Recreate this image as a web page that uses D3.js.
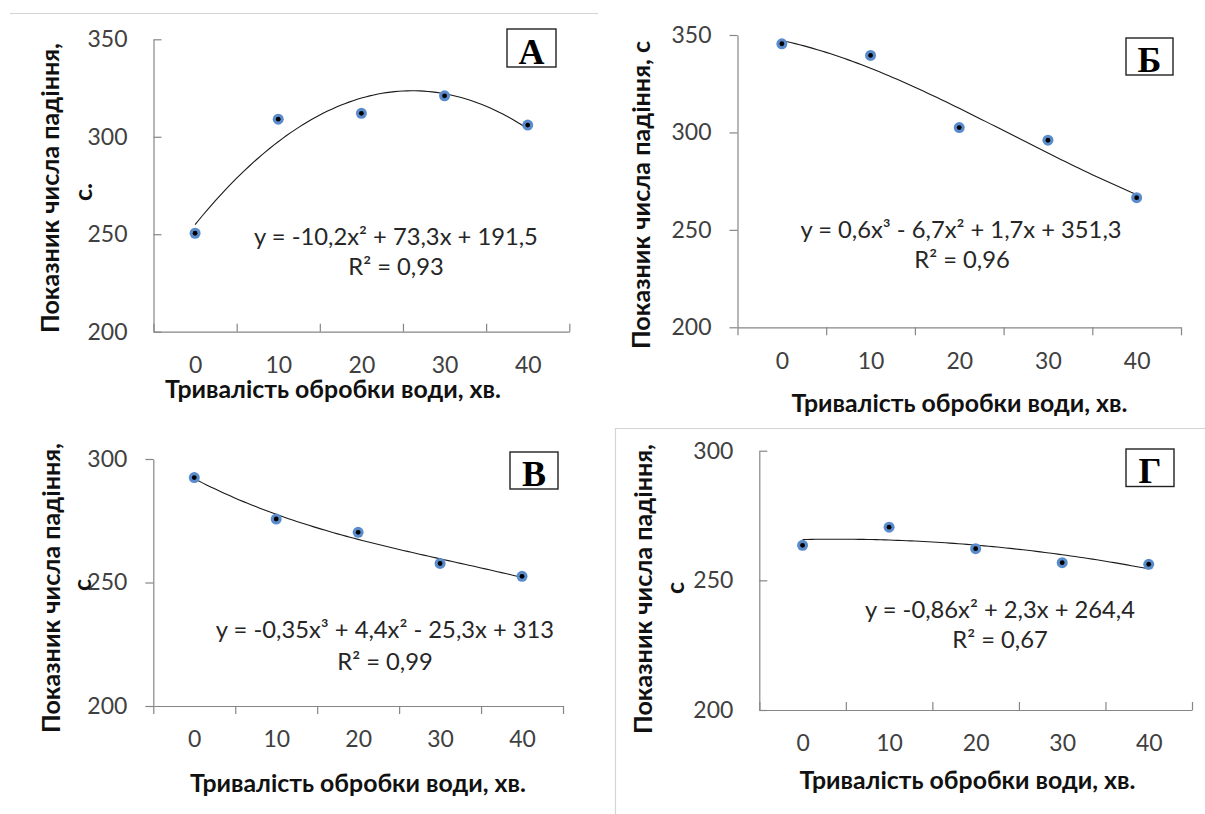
<!DOCTYPE html>
<html>
<head>
<meta charset="utf-8">
<script src="https://cdn.jsdelivr.net/npm/d3@7"></script>
<style>
  html, body { margin: 0; padding: 0; background: #fff; }
  svg { display: block; }
</style>
</head>
<body>
<svg id="chart" width="1205" height="814"></svg>
<script>
// ---- data ----
const categories = [0, 10, 20, 30, 40];

const valuesA = [250.5, 309, 312, 321, 306];
const valuesB = [345.5, 339.5, 302.5, 296, 266.5];
const valuesC = [292.5, 275.7, 270.3, 257.7, 252.5];
const valuesD = [263.5, 270.5, 262.2, 256.8, 256.2];

const yTicksA = [200, 250, 300, 350];
const yTicksB = [200, 250, 300, 350];
const yTicksC = [200, 250, 300];
const yTicksD = [200, 250, 300];

const trendOrder = [2, 3, 3, 2];

const equationText = [
  "y = -10,2x² + 73,3x + 191,5",
  "y = 0,6x³ - 6,7x² + 1,7x + 351,3",
  "y = -0,35x³ + 4,4x² - 25,3x + 313",
  "y = -0,86x² + 2,3x + 264,4"
];
const r2Text = ["R² = 0,93", "R² = 0,96", "R² = 0,99", "R² = 0,67"];
const panelLetters = ["А", "Б", "В", "Г"];
const xTitle = "Тривалість обробки води, хв.";
const yTitleLines = [
  ["Показник числа падіння,", "с."],
  ["Показник числа падіння, с"],
  ["Показник числа падіння,", "с"],
  ["Показник числа падіння,", "с"]
];

// ---- layout (positions/sizes only) ----
const layout = [
  { x0: 153.5, x1: 569.3, yTop: 39.3, yBot: 331.7, dir: "in",
    eq: [396, 237], r2: [396, 267], box: [507, 29, 49, 38],
    xt: [333, 389], yt: [[50, 188], [83, 192]] },
  { x0: 737.5, x1: 1181, yTop: 35, yBot: 327.3, dir: "out",
    eq: [961, 230], r2: [962, 260], box: [1126, 38, 47, 37],
    xt: [959.5, 403], yt: [[641, 195]] },
  { x0: 153.3, x1: 563, yTop: 459, yBot: 706, dir: "out",
    eq: [385, 630], r2: [385, 662], box: [510, 452, 48, 37],
    xt: [358, 783], yt: [[51, 588], [82, 585]] },
  { x0: 759.3, x1: 1192, yTop: 450.7, yBot: 710, dir: "in",
    eq: [1000, 610], r2: [1000, 640], box: [1126, 449, 48, 37.5],
    xt: [967.5, 780], yt: [[643, 589], [675, 588]] }
];

const allValues = [valuesA, valuesB, valuesC, valuesD];
const allTicks = [yTicksA, yTicksB, yTicksC, yTicksD];

// least-squares polynomial fit (like a spreadsheet trendline)
function polyfit(xs, ys, order) {
  const n = order + 1;
  const A = [];
  for (let r = 0; r < n; r++) {
    const row = [];
    for (let c = 0; c < n; c++) row.push(d3.sum(xs, x => Math.pow(x, r + c)));
    row.push(d3.sum(xs, (x, i) => ys[i] * Math.pow(x, r)));
    A.push(row);
  }
  for (let i = 0; i < n; i++) {
    let p = i;
    for (let k = i + 1; k < n; k++) if (Math.abs(A[k][i]) > Math.abs(A[p][i])) p = k;
    [A[i], A[p]] = [A[p], A[i]];
    for (let k = i + 1; k < n; k++) {
      const f = A[k][i] / A[i][i];
      for (let j = i; j <= n; j++) A[k][j] -= f * A[i][j];
    }
  }
  const coef = new Array(n).fill(0);
  for (let i = n - 1; i >= 0; i--) {
    let s = A[i][n];
    for (let j = i + 1; j < n; j++) s -= A[i][j] * coef[j];
    coef[i] = s / A[i][i];
  }
  return x => coef.reduce((acc, c, k) => acc + c * Math.pow(x, k), 0);
}

const svg = d3.select("#chart");
const font = 'Lato, "Noto Sans", sans-serif';

// size fonts so that text widths match the reference widths
function measure(txt, weight) {
  const t = svg.append("text").attr("font-family", font).attr("font-weight", weight)
    .attr("font-size", 100).text(txt);
  const w = t.node().getComputedTextLength();
  t.remove();
  return w;
}
const tickSize = 100 * 40 / measure("350", "normal");
const eqSize = 100 * 284 / measure(equationText[0], "normal");
const xTitleSize = 100 * 336 / measure(xTitle, "bold");
const yTitleSize = 100 * 290 / measure(yTitleLines[0][0], "bold");

svg.append("rect").attr("width", 1205).attr("height", 814).attr("fill", "#fff");

// decorative frame lines
svg.append("line").attr("x1", 10).attr("x2", 598).attr("y1", 13.5).attr("y2", 13.5)
  .attr("stroke", "#d4d4d4").attr("stroke-width", 1.2);
svg.append("path").attr("d", "M615.5,814 V428.5 H1205")
  .attr("fill", "none").attr("stroke", "#d4d4d4").attr("stroke-width", 1.2);

const axisColor = "#868686";

layout.forEach((L, p) => {
  const vals = allValues[p];
  const ticks = allTicks[p];
  const g = svg.append("g");
  const y = d3.scaleLinear().domain([200, d3.max(ticks)]).range([L.yBot, L.yTop]);
  const xl = d3.scaleLinear().domain([0, categories.length]).range([L.x0, L.x1]);
  const ts = L.dir === "out" ? 8 : -8;

  // y axis
  const ya = g.append("g").attr("transform", `translate(${L.x0},0)`)
    .call(d3.axisLeft(y).tickValues(ticks).tickSize(ts).tickSizeOuter(0)
      .tickPadding(L.dir === "out" ? 18 : 26));
  // x axis boundary ticks
  const xa = g.append("g").attr("transform", `translate(0,${L.yBot})`)
    .call(d3.axisBottom(xl).tickValues(d3.range(0, categories.length + 1))
      .tickSize(ts).tickSizeOuter(0).tickFormat(""));
  // category labels
  const xlab = g.append("g").attr("transform", `translate(0,${L.yBot})`)
    .call(d3.axisBottom(xl).tickValues(categories.map((c, i) => i + 0.5))
      .tickSize(0).tickPadding(25).tickFormat((d, i) => categories[i]));
  xlab.select(".domain").remove();
  [ya, xa].forEach(a => {
    a.select(".domain").attr("stroke", axisColor).attr("stroke-width", 1.2);
    a.selectAll(".tick line").attr("stroke", axisColor).attr("stroke-width", 1.2);
  });
  [ya, xlab].forEach(a => {
    a.attr("font-family", font).attr("font-size", tickSize);
    a.selectAll(".tick text").attr("fill", "#404040");
  });

  // trendline
  const f = polyfit(vals.map((v, i) => i + 1), vals, trendOrder[p]);
  const xsCurve = d3.range(1, categories.length + 0.0001, 0.05);
  g.append("path")
    .attr("d", d3.line().x(x => xl(x - 0.5)).y(x => y(f(x)))(xsCurve))
    .attr("fill", "none").attr("stroke", "#1a1a1a").attr("stroke-width", 1.1);

  // markers
  const mk = g.selectAll(".pt").data(vals).enter().append("g")
    .attr("transform", (v, i) => `translate(${xl(i + 0.5)},${y(v)})`);
  mk.append("circle").attr("r", 5.5).attr("fill", "#5a8ccc");
  mk.append("circle").attr("r", 2.4).attr("fill", "#000");

  // equation text
  g.append("text").attr("x", L.eq[0]).attr("y", L.eq[1]).attr("dy", "0.35em")
    .attr("text-anchor", "middle").attr("font-family", font).attr("font-size", eqSize)
    .attr("fill", "#262626").text(equationText[p]);
  g.append("text").attr("x", L.r2[0]).attr("y", L.r2[1]).attr("dy", "0.35em")
    .attr("text-anchor", "middle").attr("font-family", font).attr("font-size", eqSize)
    .attr("fill", "#262626").text(r2Text[p]);

  // panel letter box
  const [bx, by, bw, bh] = L.box;
  g.append("rect").attr("x", bx).attr("y", by).attr("width", bw).attr("height", bh)
    .attr("fill", "#fff").attr("stroke", "#222").attr("stroke-width", 1.4);
  g.append("text").attr("x", bx + bw / 2).attr("y", by + bh - 3.5)
    .attr("text-anchor", "middle").attr("font-family", '"Liberation Serif", "DejaVu Serif", serif')
    .attr("font-weight", "bold").attr("font-size", 36).attr("fill", "#000")
    .text(panelLetters[p]);

  // x title
  g.append("text").attr("x", L.xt[0]).attr("y", L.xt[1]).attr("dy", "0.35em")
    .attr("text-anchor", "middle").attr("font-family", font).attr("font-weight", "bold")
    .attr("font-size", xTitleSize).attr("fill", "#111").text(xTitle);

  // y title (rotated, possibly two lines)
  yTitleLines[p].forEach((line, k) => {
    const [cx, cy] = L.yt[k];
    g.append("text").attr("transform", `translate(${cx},${cy}) rotate(-90)`)
      .attr("dy", "0.35em").attr("text-anchor", "middle")
      .attr("font-family", font).attr("font-weight", "bold").attr("font-size", yTitleSize)
      .attr("fill", "#111").text(line);
  });
});
</script>
</body>
</html>
